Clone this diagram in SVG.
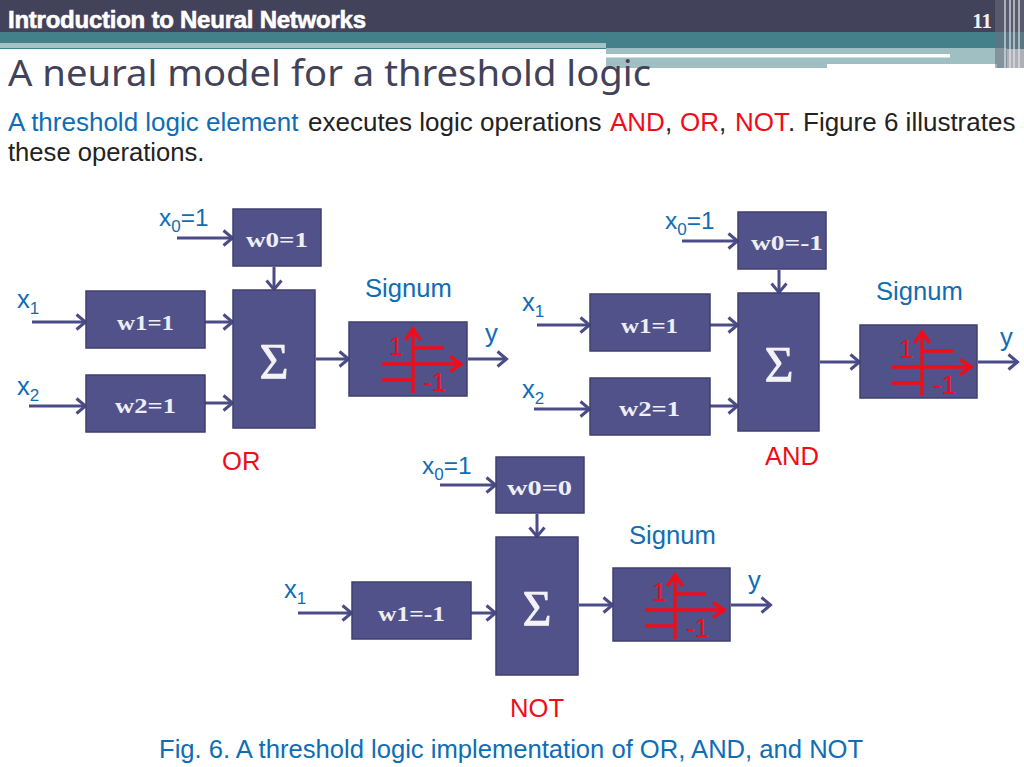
<svg xmlns="http://www.w3.org/2000/svg" width="1024" height="767" viewBox="0 0 1024 767">
<defs>
<marker id="ah" viewBox="0 0 14 18" refX="12.5" refY="9" markerWidth="14" markerHeight="18" markerUnits="userSpaceOnUse" orient="auto"><path d="M3 1.5L12 9L3 16.5" fill="none" stroke="#4b4b87" stroke-width="3"/></marker>
<marker id="rh" viewBox="0 0 16 18" refX="14" refY="9" markerWidth="16" markerHeight="18" markerUnits="userSpaceOnUse" orient="auto"><path d="M2 1.5L13 9L2 16.5" fill="none" stroke="#f00c18" stroke-width="3.4"/></marker>
</defs>
<style>
.b{fill:#52528a;stroke:#3f3f70;stroke-width:1.5}
.c{fill:none;stroke:#4b4b87;stroke-width:3;marker-end:url(#ah)}
.r{fill:none;stroke:#f00c18;stroke-width:3.4}
.ra{marker-end:url(#rh)}
.t{font-family:"Liberation Sans",Arial,sans-serif;font-size:25.6px;fill:#0f6db5}
.x{font-size:24.4px}
.s{font-size:17px}
.rt{font-family:"Liberation Sans",Arial,sans-serif;font-size:25.6px;fill:#f00c18}
.w{font-family:"Liberation Serif",serif;font-size:21px;font-weight:bold;fill:#eeeef5}
.g{font-family:"Liberation Serif",serif;font-size:50px;fill:#f2f2f7;stroke:#f2f2f7;stroke-width:0.7;text-anchor:middle}
.bd{font-family:"Liberation Sans",Arial,sans-serif;font-size:25.6px}
</style>
<rect width="1024" height="767" fill="#ffffff"/>
<g id="header">
<rect x="0" y="0" width="1024" height="32" fill="#42425a"/>
<rect x="0" y="32" width="1024" height="17" fill="#43808a"/>
<rect x="0" y="43" width="606" height="5" fill="#a5c2c6"/>
<rect x="606" y="48" width="401" height="20" fill="#a0bfc3"/>
<rect x="606" y="54" width="344" height="3.5" fill="#ffffff"/>
<rect x="827" y="64" width="170" height="4" fill="#ffffff"/>
<rect x="995" y="0" width="29" height="68" fill="#6d6d80" opacity="0.55"/>
<path d="M1005 0V68M1010 0V68M1014 0V68M1019 0V68" stroke="#e4e8ea" stroke-width="1.2"/>
<text x="8" y="28" font-family="Liberation Sans,Arial,sans-serif" font-size="24" font-weight="bold" fill="#ffffff" stroke="#ffffff" stroke-width="0.6" textLength="358">Introduction to Neural Networks</text>
<text x="992" y="28" font-family="Liberation Serif,serif" font-size="21" font-weight="bold" fill="#f2f2f2" text-anchor="end">11</text>
</g>
<text id="title" x="8" y="86" font-family="Noto Sans,sans-serif" font-size="37" fill="#42425a" textLength="643" lengthAdjust="spacingAndGlyphs">A neural model for a threshold logic</text>
<g id="intro">
<text y="131" class="bd" style="font-size:26px" fill="#222"><tspan x="8" fill="#0f6db5">A threshold logic element</tspan><tspan x="308">executes logic operations</tspan><tspan x="610" fill="#f00c18">AND</tspan><tspan x="665">,</tspan><tspan x="680" fill="#f00c18">OR</tspan><tspan x="719">,</tspan><tspan x="735" fill="#f00c18">NOT</tspan><tspan x="788">.</tspan><tspan x="803">Figure 6 illustrates</tspan></text>
<text x="8" y="161" class="bd" fill="#222">these operations.</text>
</g>
<g id="connectors">
<path class="c" d="M177 238H233"/>
<path class="c" d="M32 322H86"/>
<path class="c" d="M29 406H86"/>
<path class="c" d="M205 322H233"/>
<path class="c" d="M205 403H233"/>
<path class="c" d="M274 267V290"/>
<path class="c" d="M316 359H349"/>
<path class="c" d="M468 359H507"/>
<path class="c" d="M682 241H738"/>
<path class="c" d="M537 325H590"/>
<path class="c" d="M534 409H590"/>
<path class="c" d="M710 325H738"/>
<path class="c" d="M710 406H738"/>
<path class="c" d="M779 270V293"/>
<path class="c" d="M820 362H860"/>
<path class="c" d="M978 362H1018"/>
<path class="c" d="M440 485H496"/>
<path class="c" d="M298 613H352"/>
<path class="c" d="M471 613H496"/>
<path class="c" d="M537 514V537"/>
<path class="c" d="M579 605H613"/>
<path class="c" d="M731 605H771"/>
</g>
<g id="or-w0"><rect class="b" x="233" y="209" width="88" height="57"/><text class="w" x="246" y="247" textLength="62" lengthAdjust="spacingAndGlyphs">w0=1</text></g>
<g id="or-w1"><rect class="b" x="86" y="291" width="119" height="57"/><text class="w" x="117" y="330" textLength="57" lengthAdjust="spacingAndGlyphs">w1=1</text></g>
<g id="or-w2"><rect class="b" x="86" y="375" width="119" height="57"/><text class="w" x="115" y="413" textLength="61" lengthAdjust="spacingAndGlyphs">w2=1</text></g>
<g id="or-sum"><rect class="b" x="233" y="290" width="82" height="138"/><text class="g" x="274" y="378">Σ</text></g>
<g id="or-signum"><rect class="b" x="349" y="322" width="118" height="74"/>
<path class="r ra" d="M413 393V328"/><path class="r ra" d="M382 364H462"/><path class="r" d="M413 348H444M382 380H413"/>
<text class="rt" x="389" y="355">1</text><text class="rt" x="423" y="391">-1</text></g>
<g id="or-labels">
<text class="t x" x="159" y="226">x<tspan class="s" dy="6">0</tspan><tspan dy="-6">=1</tspan></text>
<text class="t" x="17" y="308">x<tspan class="s" dy="6">1</tspan></text>
<text class="t" x="17" y="395">x<tspan class="s" dy="6">2</tspan></text>
<text class="t" x="365" y="297">Signum</text>
<text class="t" x="485" y="342">y</text>
<text class="rt" x="222" y="470">OR</text>
</g>
<g id="and-w0"><rect class="b" x="738" y="212" width="88" height="57"/><text class="w" x="751" y="250" textLength="72" lengthAdjust="spacingAndGlyphs">w0=-1</text></g>
<g id="and-w1"><rect class="b" x="590" y="294" width="120" height="57"/><text class="w" x="621" y="333" textLength="57" lengthAdjust="spacingAndGlyphs">w1=1</text></g>
<g id="and-w2"><rect class="b" x="590" y="378" width="120" height="57"/><text class="w" x="619" y="416" textLength="61" lengthAdjust="spacingAndGlyphs">w2=1</text></g>
<g id="and-sum"><rect class="b" x="738" y="293" width="81" height="138"/><text class="g" x="779" y="381">Σ</text></g>
<g id="and-signum"><rect class="b" x="860" y="325" width="117" height="73"/>
<path class="r ra" d="M922 396V331"/><path class="r ra" d="M892 367H972"/><path class="r" d="M922 351H953M892 383H922"/>
<text class="rt" x="899" y="358">1</text><text class="rt" x="933" y="394">-1</text></g>
<g id="and-labels">
<text class="t x" x="665" y="229">x<tspan class="s" dy="6">0</tspan><tspan dy="-6">=1</tspan></text>
<text class="t" x="522" y="311">x<tspan class="s" dy="6">1</tspan></text>
<text class="t" x="522" y="398">x<tspan class="s" dy="6">2</tspan></text>
<text class="t" x="876" y="300">Signum</text>
<text class="t" x="1000" y="346">y</text>
<text class="rt" x="765" y="465">AND</text>
</g>
<g id="not-w0"><rect class="b" x="496" y="457" width="88" height="56"/><text class="w" x="507" y="495" textLength="65" lengthAdjust="spacingAndGlyphs">w0=0</text></g>
<g id="not-w1"><rect class="b" x="352" y="582" width="119" height="57"/><text class="w" x="378" y="621" textLength="67" lengthAdjust="spacingAndGlyphs">w1=-1</text></g>
<g id="not-sum"><rect class="b" x="496" y="537" width="82" height="138"/><text class="g" x="537" y="625">Σ</text></g>
<g id="not-signum"><rect class="b" x="613" y="568" width="117" height="73"/>
<path class="r ra" d="M675 639V574"/><path class="r ra" d="M645 610H725"/><path class="r" d="M675 594H706M645 626H675"/>
<text class="rt" x="652" y="601">1</text><text class="rt" x="686" y="637">-1</text></g>
<g id="not-labels">
<text class="t x" x="422" y="474">x<tspan class="s" dy="6">0</tspan><tspan dy="-6">=1</tspan></text>
<text class="t" x="284" y="598">x<tspan class="s" dy="6">1</tspan></text>
<text class="t" x="629" y="544">Signum</text>
<text class="t" x="748" y="589">y</text>
<text class="rt" x="510" y="717">NOT</text>
</g>
<text id="caption" class="t" x="159" y="758">Fig. 6. A threshold logic implementation of OR, AND, and NOT</text>
</svg>
